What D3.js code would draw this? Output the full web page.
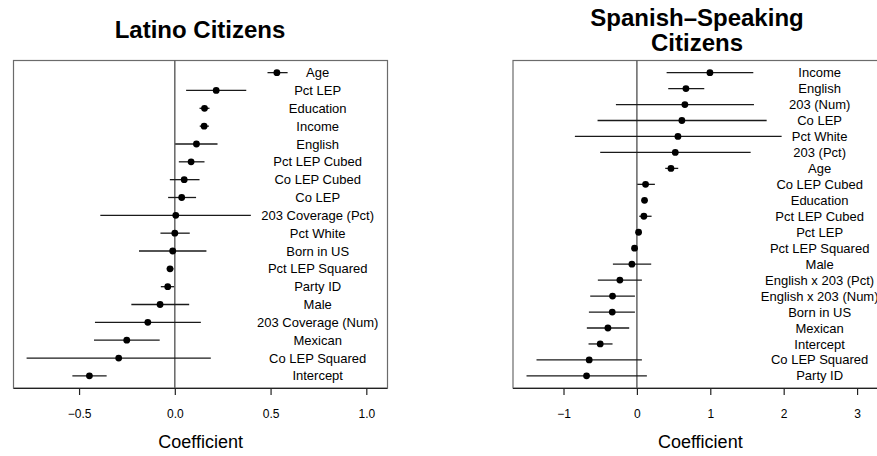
<!DOCTYPE html>
<html>
<head>
<meta charset="utf-8">
<script src="https://cdn.jsdelivr.net/npm/d3@7"></script>
<style>
  html, body { margin: 0; padding: 0; background: #fff; }
  svg { display: block; font-family: "Liberation Sans", Arial, Helvetica, sans-serif; }
</style>
</head>
<body>
<svg id="chart" width="877" height="456"></svg>
<script>
// Latino citizens model: coefficient estimates with interval bounds
const latinoTerms = ["Age", "Pct LEP", "Education", "Income", "English", "Pct LEP Cubed",
  "Co LEP Cubed", "Co LEP", "203 Coverage (Pct)", "Pct White", "Born in US",
  "Pct LEP Squared", "Party ID", "Male", "203 Coverage (Num)", "Mexican",
  "Co LEP Squared", "Intercept"];
const latinoEst  = [0.533, 0.216, 0.155, 0.153, 0.113, 0.085, 0.049, 0.036, 0.005, 0.000,
  -0.011, -0.025, -0.037, -0.077, -0.141, -0.251, -0.293, -0.446];
const latinoLow  = [0.484, 0.059, 0.129, 0.130, 0.002, 0.021, -0.026, -0.035, -0.389, -0.075,
  -0.187, -0.042, -0.073, -0.227, -0.417, -0.422, -0.774, -0.535];
const latinoHigh = [0.589, 0.373, 0.181, 0.178, 0.223, 0.155, 0.129, 0.111, 0.397, 0.078,
  0.165, -0.007, -0.004, 0.075, 0.136, -0.079, 0.188, -0.356];
const latinoTicks = [-0.5, 0, 0.5, 1.0];
const latinoTickLabels = ["\u22120.5", "0.0", "0.5", "1.0"];

// Spanish-speaking citizens model
const spanishTerms = ["Income", "English", "203 (Num)", "Co LEP", "Pct White", "203 (Pct)",
  "Age", "Co LEP Cubed", "Education", "Pct LEP Cubed", "Pct LEP", "Pct LEP Squared",
  "Male", "English x 203 (Pct)", "English x 203 (Num)", "Born in US", "Mexican",
  "Intercept", "Co LEP Squared", "Party ID"];
const spanishEst  = [0.995, 0.668, 0.654, 0.613, 0.559, 0.523, 0.464, 0.118, 0.104, 0.095,
  0.023, -0.032, -0.068, -0.232, -0.332, -0.336, -0.395, -0.500, -0.650, -0.686];
const spanishLow  = [0.405, 0.427, -0.286, -0.536, -0.845, -0.500, 0.386, 0.005, 0.085, 0.032,
  0.010, -0.045, -0.327, -0.532, -0.636, -0.654, -0.682, -0.659, -1.368, -1.504];
const spanishHigh = [1.586, 0.918, 1.595, 1.768, 1.972, 1.550, 0.563, 0.245, 0.123, 0.200,
  0.036, -0.019, 0.195, 0.068, -0.027, -0.027, -0.105, -0.332, 0.068, 0.136];
const spanishTicks = [-1, 0, 1, 2, 3];
const spanishTickLabels = ["\u22121", "0", "1", "2", "3"];

const svg = d3.select("#chart");

function panel(cfg) {
  const g = svg.append("g");
  const top = 60.5, bottom = 388;
  const x = d3.scaleLinear().domain(cfg.domain).range([cfg.left, cfg.right]);
  const n = cfg.terms.length;
  const y = d3.scalePoint().domain(cfg.terms).range([top, bottom]).padding(0.04 * (n - 1));

  // title
  const title = g.append("text")
    .attr("x", cfg.titleX)
    .attr("text-anchor", "middle")
    .attr("font-size", 24)
    .attr("font-weight", "bold")
    .attr("fill", "#000");
  cfg.title.forEach((line, i) => {
    title.append("tspan").attr("x", cfg.titleX).attr("y", cfg.titleY + i * 25).text(line);
  });

  // plot box
  g.append("rect")
    .attr("x", cfg.left + 0.5).attr("y", top)
    .attr("width", cfg.right - cfg.left).attr("height", bottom - top)
    .attr("fill", "none").attr("stroke", "#6b6b6b").attr("stroke-width", 1.2);

  // zero reference line
  g.append("line")
    .attr("x1", x(0)).attr("x2", x(0)).attr("y1", top).attr("y2", bottom)
    .attr("stroke", "#5a5a5a").attr("stroke-width", 1.4);

  // interval whiskers
  const rows = cfg.terms.map((t, i) => ({ term: t, est: cfg.est[i], lo: cfg.low[i], hi: cfg.high[i] }));
  g.selectAll("line.ci").data(rows).join("line")
    .attr("class", "ci")
    .attr("x1", d => x(d.lo)).attr("x2", d => x(d.hi))
    .attr("y1", d => y(d.term)).attr("y2", d => y(d.term))
    .attr("stroke", "#1a1a1a").attr("stroke-width", 1.3);

  // point estimates
  g.selectAll("circle.est").data(rows).join("circle")
    .attr("class", "est")
    .attr("cx", d => x(d.est)).attr("cy", d => y(d.term)).attr("r", 3.4)
    .attr("fill", "#000");

  // term labels
  g.selectAll("text.term").data(rows).join("text")
    .attr("class", "term")
    .attr("x", x(cfg.labelAt)).attr("y", d => y(d.term))
    .attr("dy", "0.35em")
    .attr("text-anchor", "middle")
    .attr("font-size", 13)
    .attr("fill", "#000")
    .text(d => d.term);

  // bottom axis
  const axis = d3.axisBottom(x)
    .tickValues(cfg.ticks)
    .tickFormat((d, i) => cfg.tickLabels[i])
    .tickSizeOuter(0)
    .tickSizeInner(7)
    .tickPadding(14);
  const ax = g.append("g").attr("transform", `translate(0,${bottom})`).call(axis);
  ax.select(".domain").attr("stroke", "#222").attr("stroke-width", 1.2);
  ax.selectAll(".tick line").attr("stroke", "#222").attr("stroke-width", 1.2);
  ax.selectAll(".tick text")
    .attr("font-size", 12)
    .attr("font-family", "Liberation Sans, Arial, sans-serif")
    .attr("fill", "#000");

  // axis title
  g.append("text")
    .attr("x", (x(cfg.ticks[0]) + x(cfg.ticks[cfg.ticks.length - 1])) / 2 + cfg.xlabShift)
    .attr("y", 447.5)
    .attr("text-anchor", "middle")
    .attr("font-size", 18)
    .attr("fill", "#000")
    .text("Coefficient");
}

panel({
  title: ["Latino Citizens"], titleX: 200, titleY: 38,
  terms: latinoTerms, est: latinoEst, low: latinoLow, high: latinoHigh,
  domain: [-0.845, 1.108], left: 13, right: 387, labelAt: 0.746,
  ticks: latinoTicks, tickLabels: latinoTickLabels, xlabShift: -22
});

panel({
  title: ["Spanish\u2013Speaking", "Citizens"], titleX: 697, titleY: 25.5,
  terms: spanishTerms, est: spanishEst, low: spanishLow, high: spanishHigh,
  domain: [-1.695, 3.326], left: 512.5, right: 881, labelAt: 2.49,
  ticks: spanishTicks, tickLabels: spanishTickLabels, xlabShift: -10
});
</script>
</body>
</html>
